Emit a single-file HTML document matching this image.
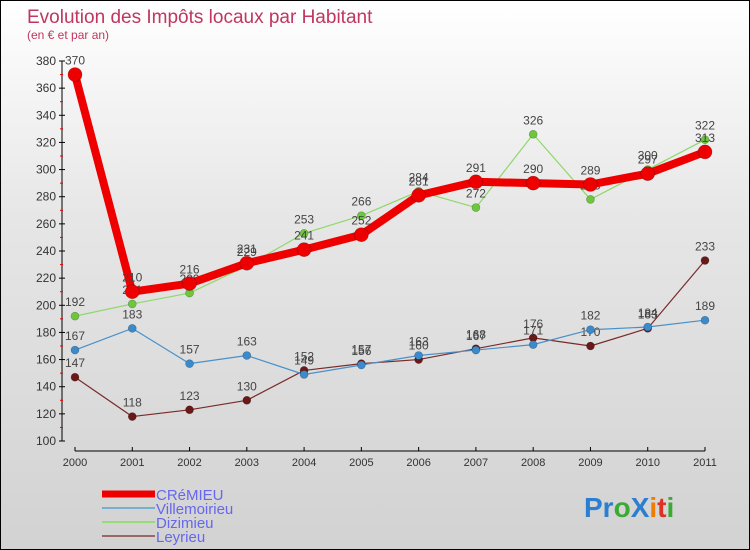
<!DOCTYPE html>
<html><head><meta charset="utf-8"><style>
body{margin:0;}
#c{width:748px;height:548px;border:1px solid #000;background:linear-gradient(#fff,#e6e6e6 40%,#d2d2d2);position:relative;overflow:hidden;font-family:"Liberation Sans",sans-serif;}
</style></head><body>
<div id="c">
<svg id="s" width="748" height="548" xmlns="http://www.w3.org/2000/svg" style="position:absolute;left:0;top:0">
<text x="26" y="22" font-size="19" fill="#c0365f">Evolution des Impôts locaux par Habitant</text>
<text x="26" y="38" font-size="12" fill="#c0365f">(en € et par an)</text>
<g id="axes"></g><g id="series"></g><g id="legend"></g>
<text x="583" y="516" font-size="28" font-weight="bold"><tspan fill="#2a7fd0">Pr</tspan><tspan fill="#3aaa35">o</tspan><tspan fill="#2a7fd0">X</tspan><tspan fill="#f07d00">i</tspan><tspan fill="#e03020">t</tspan><tspan fill="#3aaa35">i</tspan></text>
</svg>
</div>
<script>
const years=[2000,2001,2002,2003,2004,2005,2006,2007,2008,2009,2010,2011];
const yTicks=[100,120,140,160,180,200,220,240,260,280,300,320,340,360,380];
const cremieu=[370,210,216,231,241,252,281,291,290,289,297,313];
const villemoirieu=[167,183,157,163,149,156,163,167,171,182,184,189];
const dizimieu=[192,201,209,229,253,266,284,272,326,278,300,322];
const leyrieu=[147,118,123,130,152,157,160,168,176,170,183,233];
const NS="http://www.w3.org/2000/svg";
function X(i){return 74+i*(704-74)/(years.length-1);}
function Y(v){return 440-(v-100)*(380/280);}
function mk(t,a,p){const e=document.createElementNS(NS,t);for(const k in a)e.setAttribute(k,a[k]);p.appendChild(e);return e;}
const ax=document.getElementById('axes');
const yl=mk('line',{x1:61,y1:Y(380),x2:61,y2:440,stroke:'#000'},ax);


yTicks.forEach((v,i)=>{
 mk('line',{x1:58,y1:Y(v),x2:64,y2:Y(v),stroke:'#000'},ax);
 if(i<yTicks.length-1)mk('line',{x1:59,y1:Y(v+10),x2:62,y2:Y(v+10),stroke:'#e00'},ax);
 const t=mk('text',{x:55,y:Y(v)+4,'font-size':12,'text-anchor':'end',fill:'#333'},ax);t.textContent=v;
 
 
});
const xl=mk('line',{x1:X(0),y1:450,x2:X(11),y2:450,stroke:'#000'},ax);


years.forEach((y,i)=>{
 mk('line',{x1:X(i),y1:446,x2:X(i),y2:450,stroke:'#000'},ax);
 const t=mk('text',{x:X(i),y:465,'font-size':11,'text-anchor':'middle',fill:'#333'},ax);t.textContent=y;
 
 
});
const sg=document.getElementById('series');
const defs=[
 {d:leyrieu,c:'#7a2a2a',mc:'#6a1818',w:1.2,r:4,n:'leyrieu'},
 {d:villemoirieu,c:'#4a90c8',mc:'#3a8acc',w:1.2,r:4,n:'villemoirieu'},
 {d:dizimieu,c:'#8fd86a',mc:'#6cc83a',w:1.2,r:4,n:'dizimieu'},
 {d:cremieu,c:'#ee0000',mc:'#ee0000',w:8,r:7,n:'cremieu'}];
defs.forEach(s=>{
 const g=mk('g',{},sg);
 
 
 const p=mk('polyline',{points:s.d.map((v,i)=>X(i)+','+Y(v)).join(' '),fill:'none',stroke:s.c,'stroke-width':s.w,'stroke-linejoin':'round'},g);
 
 
 s.d.forEach((v,i)=>{
  const c=mk('circle',{cx:X(i),cy:Y(v),r:s.r,fill:s.mc,stroke:'rgba(0,0,0,0.3)','stroke-width':0.6},g);
  
  
  const t=mk('text',{x:X(i),y:Y(v)-10,'font-size':12,'text-anchor':'middle',fill:'#444'},g);t.textContent=v;
  
  
 });
});
const lg=document.getElementById('legend');
const items=[['CRéMIEU','#ee0000',7],['Villemoirieu','#7aaed0',2],['Dizimieu','#96dc78',2],['Leyrieu','#9a6666',2]];
items.forEach((it,i)=>{
 const y=493+i*14;
 const l=mk('line',{x1:101,y1:y,x2:154,y2:y,stroke:it[1],'stroke-width':it[2]},lg);
 
 
 const t=mk('text',{x:155,y:y+6,'font-size':15,fill:'#6666ee'},lg);t.textContent=it[0];
 
 
});
</script>
</body></html>
